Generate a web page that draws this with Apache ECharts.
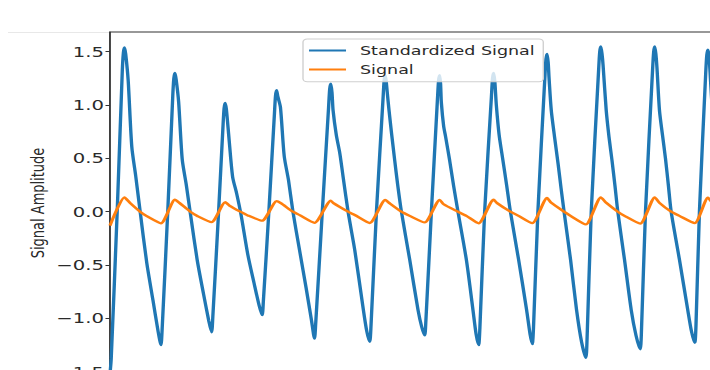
<!DOCTYPE html>
<html><head><meta charset="utf-8">
<script src="https://cdn.jsdelivr.net/npm/echarts@6/dist/echarts.min.js"></script>
<style>
html,body{margin:0;padding:0;background:#fff;overflow:hidden;width:710px;height:370px}
#c{transform-origin:0 0;}
</style>
</head><body><div id="c"></div>
<script>
// ---- data (x in sample units) ----
const blueT = [0,1.2,7.2,12.3,13.4,14.5,15.7,18.2,21.8,25.8,30.2,36.8,43,48.1,51,52.2,57.8,62.8,63.9,65,66.2,68.7,72.3,76.4,80.8,87.4,93.6,98.8,101.7,102.9,108.7,113.1,114.2,115.3,116.5,119,122.7,126.8,131.2,137.9,144.2,149.3,152.3,153.5,159,164.6,165.7,166.8,168,170.6,174.4,178.6,183.1,189.9,196.4,201.7,204.7,205.9,212.5,218.8,219.9,221,222.2,223.3,226.5,230,233.3,238.3,245,253,257,260,261.2,266.7,273.3,274.4,275.5,276.5,277.5,279.3,282,285,288,291.7,300,308.3,312,315,316.2,321.7,327.8,328.9,330,330.9,331.7,334,336,340,344,348.3,356.7,363.3,366.5,369,370.2,375,381.8,382.9,384,385.2,386.7,389.5,393,397,400.8,409,417,420.5,422.7,423.9,428.3,435.3,436.4,437.5,438.6,439.5,441.7,445,448.5,451.5,454.5,461,467,472,476.3,477.5,481.7,489.1,490.2,491.3,492.5,493.5,496.7,499.5,502.5,505.5,508.3,515,521.7,526.5,530.7,531.9,536,543.1,544.2,545.3,546.4,547.5,550,553,556,559,561.7,570,578.3,582,585.3,586.5,590,596.3,597.4,598.5,599.7,601,603,606,610];
const standardized = [-1.52,-1.38,0.0,1.32,1.49,1.54,1.48,1.23,0.61,0.33,0.0,-0.48,-0.83,-1.12,-1.25,-1.10,0.0,1.08,1.25,1.30,1.24,1.03,0.49,0.25,-0.04,-0.46,-0.77,-1.02,-1.13,-0.99,0.0,0.80,0.97,1.02,0.96,0.70,0.33,0.17,-0.03,-0.40,-0.67,-0.88,-0.97,-0.84,0.0,0.92,1.09,1.14,1.08,0.98,0.52,0.30,0.0,-0.37,-0.72,-1.02,-1.19,-1.05,0.0,0.98,1.15,1.20,1.12,0.95,0.72,0.55,0.33,0.0,-0.36,-0.88,-1.12,-1.22,-1.08,0.0,1.06,1.23,1.28,1.22,1.12,0.95,0.72,0.48,0.25,0.0,-0.45,-0.92,-1.08,-1.16,-1.02,0.0,1.06,1.23,1.28,1.20,1.02,0.80,0.70,0.48,0.24,0.0,-0.45,-0.92,-1.15,-1.25,-1.10,0.0,1.08,1.25,1.30,1.22,1.00,0.72,0.50,0.25,0.0,-0.45,-0.92,-1.15,-1.24,-1.09,0.0,1.26,1.43,1.48,1.40,1.25,0.95,0.70,0.45,0.22,0.0,-0.45,-0.92,-1.22,-1.37,-1.20,0.0,1.33,1.50,1.55,1.48,1.38,0.95,0.70,0.48,0.24,0.0,-0.45,-0.92,-1.16,-1.29,-1.14,0.0,1.33,1.50,1.55,1.48,1.35,0.95,0.72,0.50,0.24,0.0,-0.45,-0.92,-1.12,-1.23,-1.08,0.0,1.30,1.47,1.52,1.45,1.25,0.95,0.72,0.50];
const signalT = [0,14.5,20,30.2,36.8,51,65,69.5,80.5,87.4,101.7,115.3,119.5,130.5,137.9,152.3,166.8,171,183.1,189.9,204.7,221,223.3,238.3,245,260,275.5,279.3,291.7,300,315,330,334,348.3,356.7,369,384,387.5,400.8,409,422.7,437.5,441.7,454.5,461,476.3,491.3,496.7,508.3,515,530.7,545.3,550,561.7,570,585.3,598.5,603,612];
const signal = [-0.13,0.134,0.083,0,-0.042,-0.109,0.113,0.083,0,-0.040,-0.098,0.089,0.058,0,-0.035,-0.084,0.099,0.08,0,-0.032,-0.104,0.104,0.083,0,-0.031,-0.106,0.111,0.083,0,-0.039,-0.101,0.111,0.07,0,-0.039,-0.109,0.113,0.08,0,-0.039,-0.108,0.129,0.083,0,-0.039,-0.119,0.135,0.083,0,-0.039,-0.112,0.135,0.083,0,-0.039,-0.107,0.132,0.083,0.03];
const seriesNames = ['Standardized Signal', 'Signal'];
const yLabel = 'Signal Amplitude';

// ---- layout (the original picture is stretched horizontally) ----
const S = 1.4;
const el = document.getElementById('c');
el.style.width = (730 / S) + 'px';
el.style.height = '425.1px';
el.style.transform = 'scaleX(' + S + ')';

const FONT = 'DejaVu Sans';
const chart = echarts.init(el, null, {renderer: 'svg'});
const fmt = v => {
  if (Math.abs(v * 2 - Math.round(v * 2)) > 1e-6) return '';
  return (v < 0 ? '\u2212' : '') + Math.abs(v).toFixed(1);
};
chart.setOption({
  animation: false,
  backgroundColor: '#ffffff',
  grid: {left: 110 / S, top: 32, right: 0, bottom: 0, show: true, outerBoundsMode: 'none',
         containLabel: false,
         borderColor: '#333', borderWidth: 1, backgroundColor: 'transparent'},
  graphic: [{type: 'line', silent: true, z: 0,
    shape: {x1: 8 / S, y1: 32.5, x2: 109 / S, y2: 32.5},
    style: {stroke: '#e8e8e8', lineWidth: 1}}],
  xAxis: {type: 'value', min: 0, max: 620, show: false},
  yAxis: {type: 'value', min: -2.0, max: 1.685, interval: 0.5,
    axisLine: {show: true, lineStyle: {color: '#333', width: 1}},
    axisTick: {show: true, length: 4.5 / S, lineStyle: {color: '#333'}},
    splitLine: {show: false},
    axisLabel: {formatter: fmt, margin: 4.3, fontFamily: FONT, fontSize: 14, color: '#2a2a2a', showMaxLabel: false},
    name: yLabel, nameLocation: 'middle', nameGap: 45, nameRotate: 90, nameMoveOverlap: false,
    nameTextStyle: {fontFamily: FONT, fontSize: 13, color: '#2a2a2a', padding: [0, 0, 0, 51]}
  },
  legend: {
    orient: 'vertical', left: 303 / S, top: 39,
    padding: [4.5, 6, 5.3, 4.3], itemGap: 5, itemWidth: 37 / S, itemHeight: 2.2,
    icon: 'rect',
    backgroundColor: 'rgba(255,255,255,0.8)', borderColor: '#d0d0d0', borderWidth: 1, borderRadius: 3,
    textStyle: {fontFamily: FONT, fontSize: 12.5, lineHeight: 14, color: '#2a2a2a', padding: [0, 0, 0, 5]},
    data: seriesNames
  },
  series: [
    {name: seriesNames[0], type: 'line', showSymbol: false, symbol: 'none', smooth: 0.25,
     data: blueT.map((t, i) => [t, standardized[i]]),
     lineStyle: {color: '#1f77b4', width: 2.4}, itemStyle: {color: '#1f77b4'}},
    {name: seriesNames[1], type: 'line', showSymbol: false, symbol: 'none', smooth: 0.2,
     data: signalT.map((t, i) => [t, signal[i]]),
     lineStyle: {color: '#ff7f0e', width: 2.3}, itemStyle: {color: '#ff7f0e'}}
  ]
});
</script></body></html>
